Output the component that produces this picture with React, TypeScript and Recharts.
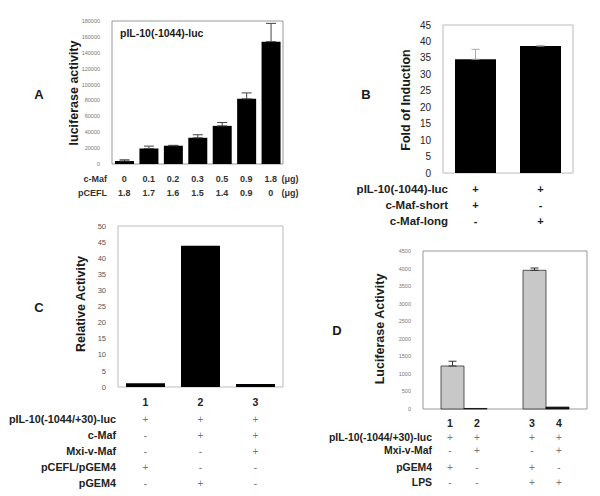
import { BarChart, Bar, XAxis, YAxis, ErrorBar, ReferenceArea } from 'recharts';

const FONT = '"Liberation Sans", Arial, sans-serif';

// Panel A: c-Maf dose response
const aCMaf = ['0', '0.1', '0.2', '0.3', '0.5', '0.9', '1.8'];
const aPCEFL = ['1.8', '1.7', '1.6', '1.5', '1.4', '0.9', '0'];
const aLuc = [3800, 19500, 23000, 33000, 48000, 82000, 154000];
const aErr = [1500, 3000, 500, 3800, 4200, 7500, 23000];
const aTicks = [0, 20000, 40000, 60000, 80000, 100000, 120000, 140000, 160000, 180000];

// Panel B: short vs long isoform
const bGroups = ['short', 'long'];
const bFold = [34.6, 38.6];
const bErr = [3, 0.2];
const bTicks = [0, 5, 10, 15, 20, 25, 30, 35, 40, 45];
const bRowLabels = ['pIL-10(-1044)-luc', 'c-Maf-short', 'c-Maf-long'];
const bRowSigns = [['+', '+'], ['+', '-'], ['-', '+']];

// Panel C: relative activity
const cLanes = ['1', '2', '3'];
const cRel = [1.2, 43.9, 0.9];
const cTicks = [0, 5, 10, 15, 20, 25, 30, 35, 40, 45, 50];
const cRowLabels = ['pIL-10(-1044/+30)-luc', 'c-Maf', 'Mxi-v-Maf', 'pCEFL/pGEM4', 'pGEM4'];
const cRowSigns = [['+', '+', '+'], ['-', '+', '+'], ['-', '-', '+'], ['+', '-', '-'], ['-', '+', '-']];

// Panel D: LPS, pGEM4 (grey) vs Mxi-v-Maf (black)
const dGroups = ['noLPS', 'LPS'];
const dLanes = [['1', '2'], ['3', '4']];
const dGem = [1225, 3950];
const dGemErr = [135, 65];
const dMxi = [15, 55];
const dTicks = [0, 500, 1000, 1500, 2000, 2500, 3000, 3500, 4000, 4500];
const dRowLabels = ['pIL-10(-1044/+30)-luc', 'Mxi-v-Maf', 'pGEM4', 'LPS'];
const dRowSigns = [
  [['+', '+'], ['+', '+']],
  [['-', '+'], ['-', '+']],
  [['+', '-'], ['+', '-']],
  [['-', '-'], ['+', '+']],
];
const dRowOffsets = [0, 13, 30, 45];

const aData = aCMaf.map((c, i) => ({ cmaf: c, luc: aLuc[i], err: [0, aErr[i]] }));
const bData = bGroups.map((g, i) => ({ g, fold: bFold[i], err: [0, bErr[i]] }));
const cData = cLanes.map((l, i) => ({ lane: l, rel: cRel[i] }));
const dData = dGroups.map((g, i) => ({ g, gem: dGem[i], err: [0, dGemErr[i]], mxi: dMxi[i] }));

const ATick = (p: any) => (
  <g fontFamily={FONT} fontSize={9} fontWeight="bold" fill="#333" textAnchor="middle">
    <text x={p.x} y={p.y + 18}>{aCMaf[p.index]}</text>
    <text x={p.x} y={p.y + 32}>{aPCEFL[p.index]}</text>
  </g>
);

const BTick = (p: any) => (
  <g fontFamily={FONT} fontSize={11} fontWeight="bold" fill="#222" textAnchor="middle">
    {bRowSigns.map((r, k) => (
      <text key={k} x={p.x} y={p.y + 20 + k * 16}>{r[p.index]}</text>
    ))}
  </g>
);

const CTick = (p: any) => (
  <g fontFamily={FONT} textAnchor="middle">
    <text x={p.x} y={p.y + 19} fontSize={10.5} fontWeight="bold" fill="#222">{cLanes[p.index]}</text>
    {cRowSigns.map((r, k) => (
      <text key={k} x={p.x} y={p.y + 36 + k * 16} fontSize={10} fill="#777">{r[p.index]}</text>
    ))}
  </g>
);

const DTick = (p: any) => (
  <g fontFamily={FONT} textAnchor="middle">
    {[-14, 13].map((dx, j) => (
      <g key={j}>
        <text x={p.x + dx} y={p.y + 18} fontSize={10.5} fontWeight="bold" fill="#222">{dLanes[p.index][j]}</text>
        {dRowSigns.map((r, k) => (
          <text key={k} x={p.x + dx} y={p.y + 32 + dRowOffsets[k]} fontSize={10} fill="#777">{r[p.index][j]}</text>
        ))}
      </g>
    ))}
  </g>
);

const smallTick = { fontSize: 5.5, fill: '#777', fontFamily: FONT };
const midTick = { fontSize: 10, fill: '#222', fontFamily: FONT };

function Overlay() {
  const bold = { fontFamily: FONT, fontWeight: 'bold' as const, fill: '#1a1a1a' };
  return (
    <svg width={600} height={496} style={{ position: 'absolute', left: 0, top: 0, pointerEvents: 'none' }}>
      <g {...bold} fontSize={13}>
        <text x={39} y={99} textAnchor="middle">A</text>
        <text x={366} y={99} textAnchor="middle">B</text>
        <text x={39} y={312} textAnchor="middle">C</text>
        <text x={337} y={335} textAnchor="middle">D</text>
      </g>
      <g {...bold} fontSize={12.5} textAnchor="middle">
        <text transform="translate(78,93) rotate(-90)">luciferase activity</text>
        <text transform="translate(410,100) rotate(-90)">Fold of Induction</text>
        <text transform="translate(85,304) rotate(-90)">Relative Activity</text>
        <text transform="translate(384,329) rotate(-90)">Luciferase Activity</text>
      </g>
      <text {...bold} fontSize={10.5} x={120} y={37}>pIL-10(-1044)-luc</text>
      <g {...bold} fontSize={9} fill="#333" textAnchor="end">
        <text x={107} y={182}>c-Maf</text>
        <text x={107} y={196}>pCEFL</text>
      </g>
      <g {...bold} fontSize={9} fill="#333" textAnchor="middle">
        <text x={290} y={182}>(μg)</text>
        <text x={290} y={196}>(μg)</text>
      </g>
      <g {...bold} fill="#222" textAnchor="end">
        {bRowLabels.map((l, k) => (
          <text key={l} fontSize={11.5} x={448} y={193 + k * 16}>{l}</text>
        ))}
        {cRowLabels.map((l, k) => (
          <text key={l} fontSize={10.8} x={116} y={423 + k * 16}>{l}</text>
        ))}
        {dRowLabels.map((l, k) => (
          <text key={l} fontSize={10.4} x={432} y={441 + dRowOffsets[k]}>{l}</text>
        ))}
      </g>
    </svg>
  );
}

export default function App() {
  return (
    <div style={{ position: 'absolute', left: 0, top: 0, width: 600, height: 496, background: '#fff', overflow: 'hidden' }}>
      <div style={{ position: 'absolute', left: 0, top: 0 }}>
        <BarChart width={300} height={205} data={aData} margin={{ top: 21, right: 17, left: 0, bottom: 0 }} barSize={19}>
          <ReferenceArea y1={0} y2={180000} fill="none" stroke="#999" strokeWidth={1} />
          <XAxis dataKey="cmaf" height={41} axisLine={false} tickLine={false} tickSize={0} tickMargin={0} tick={ATick} interval={0} />
          <YAxis width={112} domain={[0, 180000]} ticks={aTicks} axisLine={false} tickLine={false} tickMargin={6} tick={smallTick} interval={0} />
          <Bar dataKey="luc" fill="#000" isAnimationActive={false}>
            <ErrorBar dataKey="err" direction="y" width={5} stroke="#444" strokeWidth={1} />
          </Bar>
        </BarChart>
      </div>
      <div style={{ position: 'absolute', left: 300, top: 0 }}>
        <BarChart width={300} height={240} data={bData} margin={{ top: 25, right: 27, left: 0, bottom: 0 }} barSize={41}>
          <ReferenceArea y1={0} y2={45} fill="none" stroke="#bbb" strokeWidth={1} />
          <XAxis dataKey="g" height={67} axisLine={false} tickLine={false} tickSize={0} tickMargin={0} tick={BTick} interval={0} />
          <YAxis width={143} domain={[0, 45]} ticks={bTicks} axisLine={false} tickLine={false} tickMargin={6} tick={midTick} interval={0} />
          <Bar dataKey="fold" fill="#000" isAnimationActive={false}>
            <ErrorBar dataKey="err" direction="y" width={4} stroke="#aaa" strokeWidth={1} />
          </Bar>
        </BarChart>
      </div>
      <div style={{ position: 'absolute', left: 0, top: 200 }}>
        <BarChart width={300} height={296} data={cData} margin={{ top: 26, right: 17, left: 0, bottom: 0 }} barSize={39}>
          <ReferenceArea y1={0} y2={50} fill="none" stroke="#bbb" strokeWidth={1} />
          <XAxis dataKey="lane" height={109} axisLine={false} tickLine={false} tickSize={0} tickMargin={0} tick={CTick} interval={0} />
          <YAxis width={118} domain={[0, 50]} ticks={cTicks} axisLine={false} tickLine={false} tickMargin={6} tick={{ ...smallTick, fontSize: 7.5, fill: '#555' }} interval={0} />
          <Bar dataKey="rel" fill="#000" isAnimationActive={false} />
        </BarChart>
      </div>
      <div style={{ position: 'absolute', left: 300, top: 200 }}>
        <BarChart width={300} height={296} data={dData} margin={{ top: 51, right: 13, left: 0, bottom: 0 }} barSize={23} barGap={0}>
          <ReferenceArea y1={0} y2={4500} fill="none" stroke="#999" strokeWidth={1} />
          <XAxis dataKey="g" height={87} axisLine={false} tickLine={false} tickSize={0} tickMargin={0} tick={DTick} interval={0} />
          <YAxis width={123} domain={[0, 4500]} ticks={dTicks} axisLine={false} tickLine={false} tickMargin={6} tick={smallTick} interval={0} />
          <Bar dataKey="gem" fill="#c8c8c8" stroke="#333" strokeWidth={0.8} isAnimationActive={false}>
            <ErrorBar dataKey="err" direction="y" width={4} stroke="#333" strokeWidth={1} />
          </Bar>
          <Bar dataKey="mxi" fill="#111" stroke="#111" strokeWidth={0.8} isAnimationActive={false} />
        </BarChart>
      </div>
      <Overlay />
    </div>
  );
}
